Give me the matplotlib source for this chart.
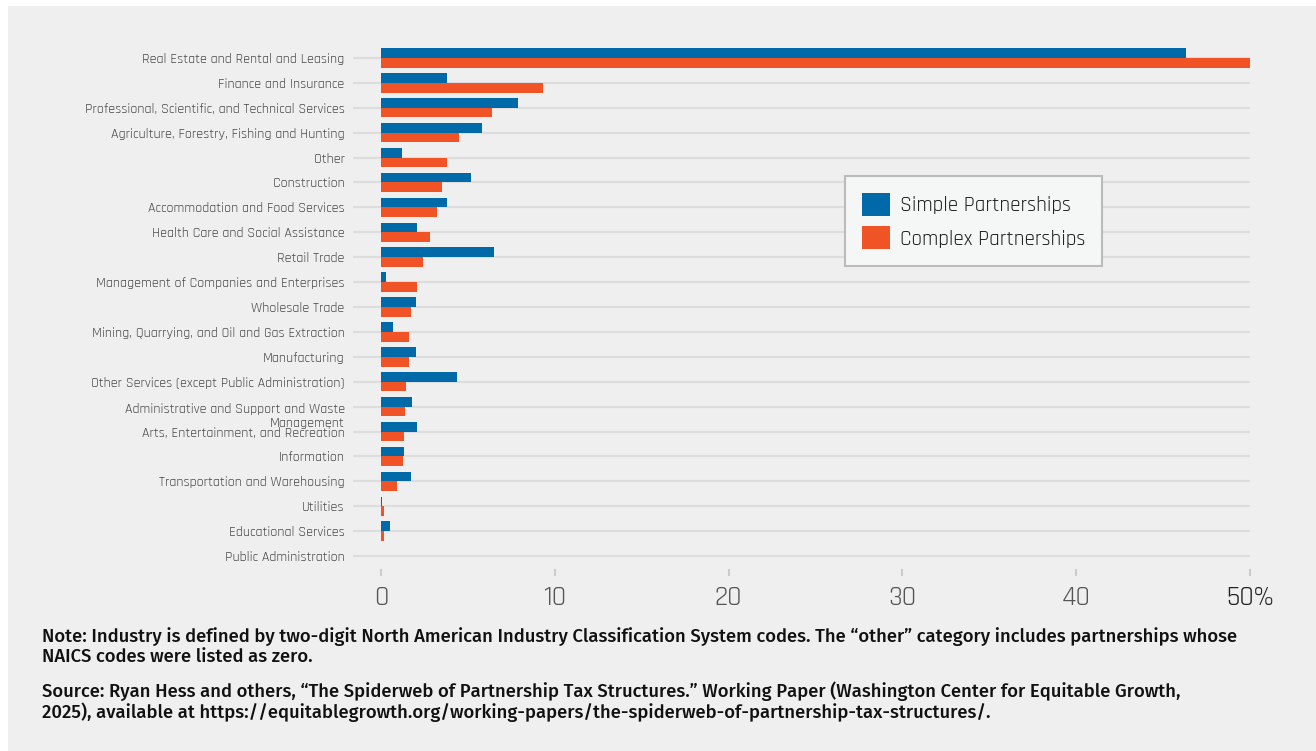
import numpy as np
import matplotlib
matplotlib.use('Agg')
import matplotlib.pyplot as plt
from matplotlib.patches import Rectangle
from matplotlib.transforms import ScaledTranslation

# share of partnerships by industry (%)
industries = [
    'Real Estate and Rental and Leasing',
    'Finance and Insurance',
    'Professional, Scientific, and Technical Services',
    'Agriculture, Forestry, Fishing and Hunting',
    'Other',
    'Construction',
    'Accommodation and Food Services',
    'Health Care and Social Assistance',
    'Retail Trade',
    'Management of Companies and Enterprises',
    'Wholesale Trade',
    'Mining, Quarrying, and Oil and Gas Extraction',
    'Manufacturing',
    'Other Services (except Public Administration)',
    'Administrative and Support and Waste\nManagement',
    'Arts, Entertainment, and Recreation',
    'Information',
    'Transportation and Warehousing',
    'Utilities',
    'Educational Services',
    'Public Administration',
]
simple = [46.3, 3.8, 7.9, 5.8, 1.2, 5.2, 3.8, 2.1, 6.5, 0.3, 2.0,
          0.7, 2.0, 4.4, 1.8, 2.1, 1.3, 1.7, 0.05, 0.5, 0.0]
complex_ = [50.0, 9.3, 6.4, 4.5, 3.8, 3.5, 3.2, 2.8, 2.4, 2.1, 1.7,
            1.6, 1.6, 1.45, 1.4, 1.3, 1.25, 0.9, 0.2, 0.2, 0.0]
xticks = [0, 10, 20, 30, 40, 50]
xticklabels = ['0', '10', '20', '30', '40', '50%']

note = ('Note: Industry is defined by two-digit North American Industry Classification System codes. '
        'The \u201cother\u201d category includes partnerships whose\nNAICS codes were listed as zero.')
source = ('Source: Ryan Hess and others, \u201cThe Spiderweb of Partnership Tax Structures.\u201d '
          'Working Paper (Washington Center for Equitable Growth,\n2025), available at '
          'https://equitablegrowth.org/working-papers/the-spiderweb-of-partnership-tax-structures/.')

BLUE = '#0069a8'
ORANGE = '#f05326'
PANEL = '#efefef'

W, H = 1316, 751
fig = plt.figure(figsize=(W / 100, H / 100), dpi=100, facecolor='white')
fig.patches.append(Rectangle((8 / W, 0), 1 - 8 / W, 1 - 6 / H, transform=fig.transFigure,
                             facecolor=PANEL, edgecolor='none', zorder=-10))

ax = fig.add_axes([353 / W, 1 - 569 / H, (1250 - 353) / W, (569 - 43) / H])
ax.set_facecolor('none')

y = np.arange(len(industries))
bh = 0.39
ax.barh(y - bh / 2, simple, height=bh, color=BLUE, label='Simple Partnerships', zorder=3)
ax.barh(y + bh / 2, complex_, height=bh, color=ORANGE, label='Complex Partnerships', zorder=3)

# horizontal guide line through each industry row
ax.hlines(y, -1.61, 50, color='#dddddd', linewidth=1.6, zorder=1)

ax.set_xlim(-1.61, 50)
ax.set_ylim(20.52, -0.6)
for s in ax.spines.values():
    s.set_visible(False)

ax.set_yticks(y)
ax.set_yticklabels(industries, family='Rajdhani', fontsize=10.2, color='#4a4a4a', linespacing=1.15)
ax.tick_params(axis='y', length=0, pad=6)
# two-line label hangs below its row instead of centring on it
for lab in ax.get_yticklabels():
    if '\n' in lab.get_text():
        lab.set_transform(lab.get_transform() + ScaledTranslation(0, -0.075, fig.dpi_scale_trans))

ax.set_xticks(xticks)
ax.set_xticklabels(xticklabels, family='Rajdhani', fontsize=20, color='#555555')
ax.get_xticklabels()[-1].set_color('#222222')
ax.tick_params(axis='x', length=5, width=1.5, color='#cccccc', pad=7)

leg = ax.legend(loc='upper left', bbox_to_anchor=(845 / W, 1 - 176 / H),
                bbox_transform=fig.transFigure, borderaxespad=0,
                prop={'family': 'Rajdhani', 'size': 15.2}, frameon=True, fancybox=False,
                handlelength=1.35, handleheight=1.3, handletextpad=0.45,
                labelspacing=0.5, borderpad=0.8)
leg.get_frame().set_facecolor('#f5f6f6')
leg.get_frame().set_edgecolor('#bbbbbb')
leg.get_frame().set_linewidth(1.5)
leg.get_frame().set_alpha(1)
for t in leg.get_texts():
    t.set_color('#222222')

fig.text(42 / W, 1 - 627 / H, note, family='Fira Sans', weight=500,
         fontsize=13.3, color='#111111', va='top', linespacing=1.13)
fig.text(42 / W, 1 - 681 / H, source, family='Fira Sans', weight=500,
         fontsize=13.3, color='#111111', va='top', linespacing=1.13)

fig.savefig('out.png', dpi=100, facecolor=fig.get_facecolor())
